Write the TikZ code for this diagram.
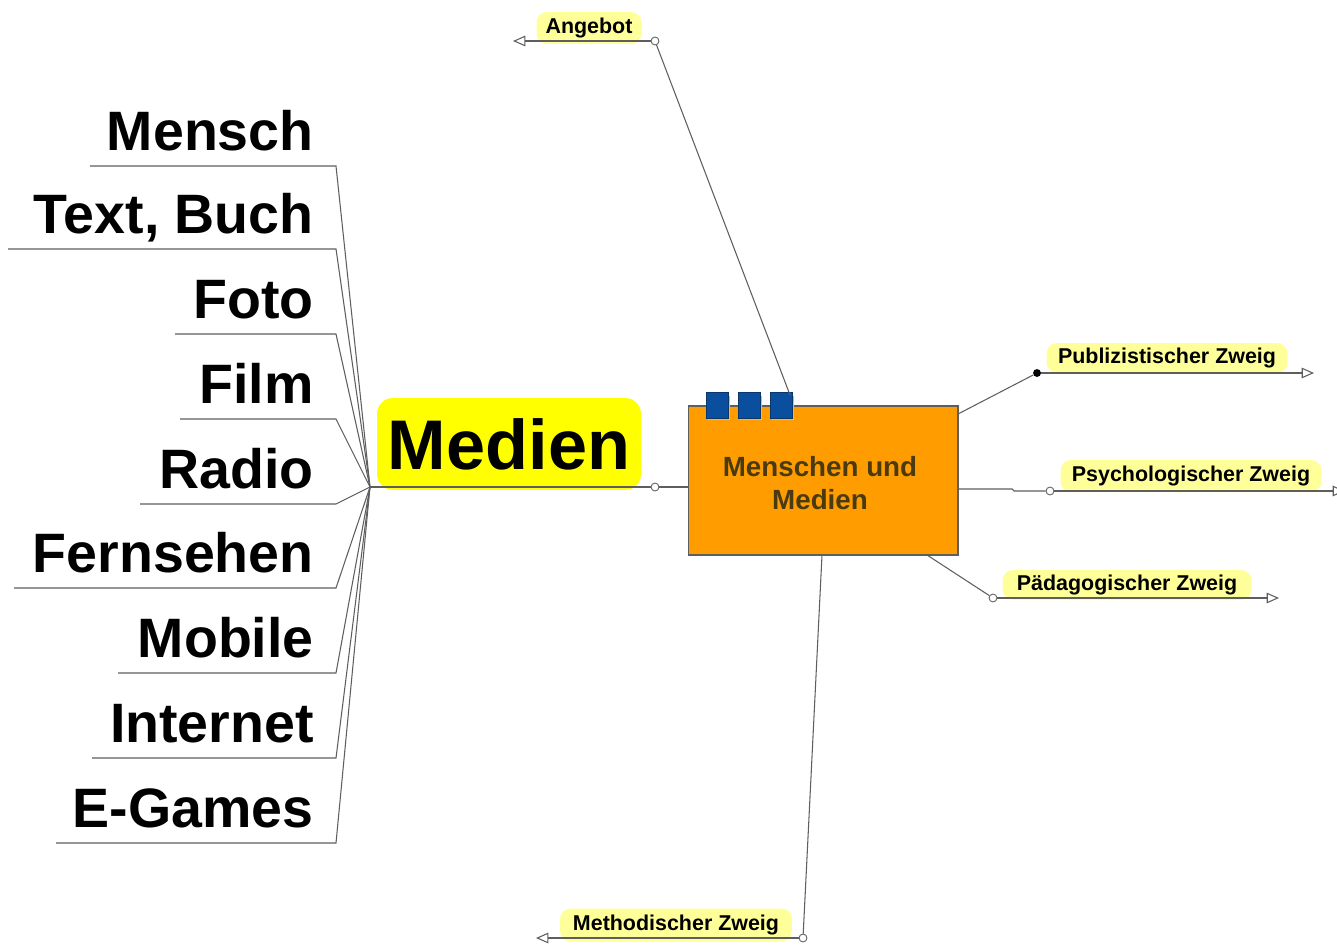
\documentclass[tikz,border=0pt]{standalone}
\usepackage{fontspec}
\setmainfont{Liberation Sans}
\usetikzlibrary{arrows.meta}
\definecolor{lineg}{HTML}{5E5E5E}
\definecolor{pillyel}{HTML}{FFFF99}
\definecolor{hubyel}{HTML}{FFFF00}
\definecolor{boxorange}{HTML}{FF9C00}
\definecolor{boxtext}{HTML}{4A3A10}
\definecolor{tabblue}{HTML}{0A4F9E}
\begin{document}
\begin{tikzpicture}[x=0.02cm,y=-0.02cm,
  item/.style={anchor=base east, inner sep=0pt, font=\bfseries\fontsize{31.6}{37}\selectfont},
  conn/.style={draw=lineg, line width=0.6pt},
  pill/.style={fill=pillyel, rounded corners=6pt, inner sep=0pt, font=\bfseries\fontsize{12.2}{14}\selectfont},
  oarrow/.style={-{Triangle[open,length=7pt,width=6pt]}},
  knob/.style={circle, draw=lineg, fill=white, inner sep=0pt, minimum size=4.5pt, line width=0.5pt},
  dotknob/.style={circle, fill=black, inner sep=0pt, minimum size=4.5pt},
  tab/.style={fill=tabblue, draw=tabblue!70!black, line width=0.3pt, inner sep=0pt, minimum width=0.44cm, minimum height=0.52cm}
]
\clip (0,0) rectangle (1337,946);
\fill[white] (0,0) rectangle (1337,946);

% hub
\coordinate (hub) at (370,487);

% left items
\foreach \n/\t/\y/\xl in {mensch/Mensch/166/90, textbuch/{Text, Buch}/249/8, foto/Foto/334/175, film/Film/419/180, radio/Radio/504/140, fernsehen/Fernsehen/588/14, mobile/Mobile/673/118, internet/Internet/758/92, egames/E-Games/843/56}{
  \node[item] (\n) at (314,\y-16) {\t};
  \coordinate (\n-l) at (\xl,\y);
  \coordinate (\n-r) at (336,\y);
  \draw[conn] (\n-l) -- (\n-r) -- (hub);
}

% central Medien node
\node[fill=hubyel, rounded corners=9pt, inner sep=0pt, minimum width=5.28cm, minimum height=1.84cm,
  font=\bfseries\fontsize{40}{48}\selectfont] (medien) at (509,444) {Medien};

% orange box
\node[fill=boxorange, draw=lineg, line width=0.6pt, minimum width=5.4cm, minimum height=2.98cm,
  inner sep=0pt] (box) at (823,480.5) {};
\node[align=center, text=boxtext, inner sep=0pt, font=\bfseries\fontsize{15.8}{18.5}\selectfont] (boxlabel) at (820,483) {Menschen und\\Medien};

% blue tabs with shadow
\foreach \i/\x in {1/717,2/749,3/781}{
  \fill[black!25] (\x-9,396) rectangle (\x+13,420);
  \node[tab] (tab\i) at (\x,405) {};
}

% hub to box
\coordinate (boxin) at (688,487);
\node[knob] (mknob) at (655,487) {};
\draw[conn] (hub) -- (mknob);
\draw[conn] (mknob) -- (boxin);

% Angebot
\node[pill, minimum width=2.1cm, minimum height=0.64cm] (angebot) at (589,28) {Angebot};
\coordinate (angtip) at (513,41);
\coordinate (angout) at (790,395);
\node[knob] (angknob) at (655,41) {};
\draw[conn, oarrow] (angknob) -- (angtip);
\draw[conn] (angout) -- (angknob);

% Publizistischer Zweig
\node[pill, minimum width=4.82cm, minimum height=0.6cm] (publ) at (1167,358) {Publizistischer Zweig};
\coordinate (publout) at (958,414);
\coordinate (publtip) at (1314,373);
\node[dotknob] (publknob) at (1037,373) {};
\draw[conn] (publout) -- (publknob);
\draw[conn, oarrow] (publknob) -- (publtip);

% Psychologischer Zweig
\node[pill, minimum width=5.22cm, minimum height=0.64cm] (psych) at (1191,476) {Psychologischer Zweig};
\coordinate (psyout) at (958,489);
\coordinate (psytip) at (1345,491);
\node[knob] (psyknob) at (1050,491) {};
\draw[conn] (psyout) -- (1012,489) -- (1014,491) -- (psyknob);
\draw[conn, oarrow] (psyknob) -- (psytip);

% Paedagogischer Zweig
\node[pill, minimum width=4.98cm, minimum height=0.6cm] (paed) at (1127,585) {Pädagogischer Zweig};
\coordinate (paedout) at (927,555);
\coordinate (paedtip) at (1279,598);
\node[knob] (paedknob) at (993,598) {};
\draw[conn] (paedout) -- (paedknob);
\draw[conn, oarrow] (paedknob) -- (paedtip);

% Methodischer Zweig
\node[pill, minimum width=4.64cm, minimum height=0.66cm] (meth) at (676,925) {Methodischer Zweig};
\coordinate (methout) at (822,555);
\coordinate (methtip) at (536,938);
\node[knob] (methknob) at (803,938) {};
\draw[conn] (methout) -- (methknob);
\draw[conn, oarrow] (methknob) -- (methtip);
\end{tikzpicture}
\end{document}
